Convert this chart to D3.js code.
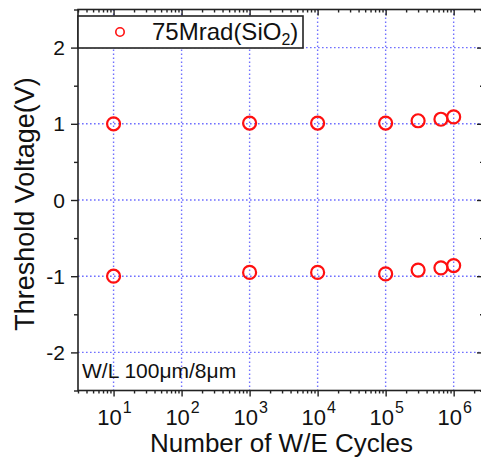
<!DOCTYPE html>
<html>
<head>
<meta charset="utf-8">
<script src="https://cdn.jsdelivr.net/npm/d3@7"></script>
<style>
  html, body { margin: 0; padding: 0; background: #fff; }
  svg { display: block; font-family: "Liberation Sans", Arial, sans-serif; }
</style>
</head>
<body>
<svg id="chart" width="481" height="459"></svg>
<script>
// ---- data ----
const cycles = [10, 1000, 10000, 100000, 300000, 650000, 1000000];
const vtProgram = [1.00, 1.01, 1.01, 1.01, 1.04, 1.06, 1.09];
const vtErase = [-1.00, -0.95, -0.95, -0.97, -0.92, -0.89, -0.86];
const xMajorExps = [1, 2, 3, 4, 5, 6];
const yMajorTicks = [-2, -1, 0, 1, 2];
const yMinorTicks = [-2.5, -1.5, -0.5, 0.5, 1.5, 2.5];
const legendLabel = "75Mrad(SiO";
const legendSub = "2";
const annotation = "W/L 100\u03BCm/8\u03BCm";
const xTitle = "Number of W/E Cycles";
const yTitle = "Threshold Voltage(V)";

(function () {
const svg = d3.select("#chart");
const L = 78, R = 483, T = 9.5, B = 390.5;
const x = d3.scaleLog().domain([3, 2.7e6]).range([L, R]);
const y = d3.scaleLinear().domain([-2.5, 2.5]).range([B, T]);

const gridColor = "#7070ff";
const axisColor = "#222";
const textColor = "#111";

const xMinor = [];
for (let e = 0; e <= 6; e++) for (let m = 2; m <= 9; m++) {
  const v = m * Math.pow(10, e);
  if (v >= 3 && v <= 2.7e6) xMinor.push(v);
}
const xMajor = xMajorExps.map(e => Math.pow(10, e));

// grid
const grid = svg.append("g");
grid.selectAll("line.gx").data(xMajor).join("line")
  .attr("x1", d => x(d)).attr("x2", d => x(d)).attr("y1", T).attr("y2", B)
  .attr("stroke", gridColor).attr("stroke-width", 1.4).attr("stroke-dasharray", "1.6,2.4");
grid.selectAll("line.gy").data(yMajorTicks).join("line")
  .attr("x1", L).attr("x2", R).attr("y1", d => y(d)).attr("y2", d => y(d))
  .attr("stroke", gridColor).attr("stroke-width", 1.4).attr("stroke-dasharray", "1.6,2.4");

// axes (bottom & left outward, top & right inward)
const gBottom = svg.append("g").attr("transform", `translate(0,${B})`)
  .call(d3.axisBottom(x).tickValues(xMajor).tickSize(6).tickFormat(""));
const gBottomMinor = svg.append("g").attr("transform", `translate(0,${B})`)
  .call(d3.axisBottom(x).tickValues(xMinor).tickSize(3).tickFormat(""));
const gTop = svg.append("g").attr("transform", `translate(0,${T})`)
  .call(d3.axisBottom(x).tickValues(xMajor).tickSize(6).tickFormat(""));
const gTopMinor = svg.append("g").attr("transform", `translate(0,${T})`)
  .call(d3.axisBottom(x).tickValues(xMinor).tickSize(3).tickFormat(""));
const gLeft = svg.append("g").attr("transform", `translate(${L},0)`)
  .call(d3.axisLeft(y).tickValues(yMajorTicks).tickSize(7).tickFormat(""));
const gLeftMinor = svg.append("g").attr("transform", `translate(${L},0)`)
  .call(d3.axisLeft(y).tickValues(yMinorTicks).tickSize(4).tickFormat(""));
const gRight = svg.append("g").attr("transform", `translate(${R},0)`)
  .call(d3.axisLeft(y).tickValues(yMajorTicks).tickSize(6).tickFormat(""));
const gRightMinor = svg.append("g").attr("transform", `translate(${R},0)`)
  .call(d3.axisLeft(y).tickValues(yMinorTicks).tickSize(3).tickFormat(""));
[gBottom, gBottomMinor, gTop, gTopMinor, gLeft, gLeftMinor, gRight, gRightMinor].forEach(g => {
  g.select(".domain").remove();
  g.selectAll("line").attr("stroke", axisColor).attr("stroke-width", 1.4);
});
svg.append("rect").attr("x", L).attr("y", T).attr("width", R - L).attr("height", B - T)
  .attr("fill", "none").attr("stroke", axisColor).attr("stroke-width", 1.6);

// y tick labels
svg.append("g").selectAll("text").data(yMajorTicks).join("text")
  .attr("x", 65).attr("y", d => y(d)).attr("dy", "0.36em")
  .attr("text-anchor", "end").attr("font-size", 21).attr("fill", textColor)
  .text(d => d === 0 ? "0" : (d < 0 ? "-" + Math.abs(d) : String(d)));

// x tick labels
const xl = svg.append("g").selectAll("text").data(xMajorExps).join("text")
  .attr("x", d => x(Math.pow(10, d)) + 1).attr("y", 425)
  .attr("text-anchor", "middle").attr("font-size", 22).attr("fill", textColor);
xl.append("tspan").text("10");
xl.append("tspan").attr("dy", -12).attr("dx", 1).attr("font-size", 16).text(d => d);

// titles
svg.append("text").attr("x", (L + R) / 2 + 1).attr("y", 452)
  .attr("text-anchor", "middle").attr("font-size", 26).attr("fill", textColor).text(xTitle);
svg.append("text").attr("transform", "translate(34,204) rotate(-90)")
  .attr("text-anchor", "middle").attr("font-size", 27).attr("fill", textColor).text(yTitle);

// annotation
svg.append("text").attr("x", 82).attr("y", 378).attr("font-size", 21).attr("fill", textColor).text(annotation);

// data
const allPts = cycles.map((c, i) => ({c, v: vtProgram[i]})).concat(cycles.map((c, i) => ({c, v: vtErase[i]})));
svg.append("g").selectAll("circle").data(allPts).join("circle")
  .attr("cx", d => x(d.c)).attr("cy", d => y(d.v)).attr("r", 6.5)
  .attr("fill", "none").attr("stroke", "#ff1010").attr("stroke-width", 2.2);

// legend
const lg = svg.append("g");
lg.append("rect").attr("x", L).attr("y", 16).attr("width", 225).attr("height", 32)
  .attr("fill", "#fff").attr("stroke", axisColor).attr("stroke-width", 1.6);
lg.append("circle").attr("cx", 120).attr("cy", 32).attr("r", 4.2)
  .attr("fill", "none").attr("stroke", "#ff1010").attr("stroke-width", 1.6);
const lt = lg.append("text").attr("x", 152).attr("y", 40).attr("font-size", 24).attr("fill", textColor);
lt.append("tspan").text(legendLabel);
lt.append("tspan").attr("font-size", 16).attr("dy", 5).text(legendSub);
lt.append("tspan").attr("dy", -5).text(")");
})();
</script>
</body>
</html>
